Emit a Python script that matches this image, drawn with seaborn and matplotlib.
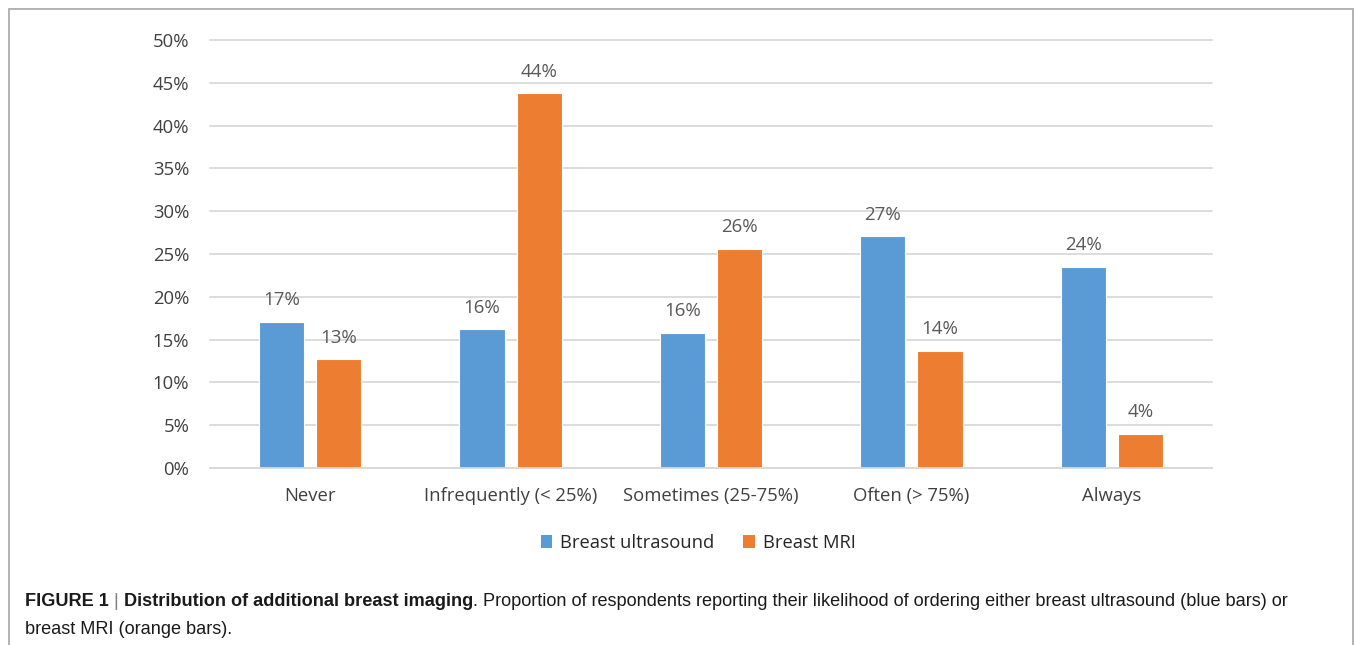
import matplotlib
matplotlib.use("Agg")
import matplotlib.pyplot as plt
import seaborn as sns
import pandas as pd
from matplotlib.patches import Rectangle, Patch
from matplotlib.ticker import FuncFormatter, MultipleLocator

categories = ["Never", "Infrequently (< 25%)", "Sometimes (25-75%)", "Often (> 75%)", "Always"]
series_names = ["Breast ultrasound", "Breast MRI"]
ultrasound = [17.1, 16.2, 15.8, 27.1, 23.5]
mri = [12.7, 43.8, 25.6, 13.7, 4.0]
ultrasound_labels = ["17%", "16%", "16%", "27%", "24%"]
mri_labels = ["13%", "44%", "26%", "14%", "4%"]
colors = ["#5B9BD5", "#ED7D31"]

df = pd.DataFrame({
    "category": categories * 2,
    "series": [series_names[0]] * 5 + [series_names[1]] * 5,
    "value": [v / 100 for v in ultrasound + mri],
})

sns.set_theme(style="white")
plt.rcParams["font.family"] = ["Open Sans", "DejaVu Sans"]

W, H = 1355, 645
fig = plt.figure(figsize=(W / 100, H / 100), dpi=100)
ax = fig.add_axes([210 / W, 1 - 468 / H, (1212 - 210) / W, (468 - 40) / H])

sns.barplot(data=df, x="category", y="value", hue="series", order=categories,
            hue_order=series_names, palette=colors, width=0.57, gap=0.21,
            ax=ax, legend=False, saturation=1, linewidth=0.8,
            edgecolor="white")

for cont, labs in zip(ax.containers, [ultrasound_labels, mri_labels]):
    ax.bar_label(cont, labels=labs, padding=9, fontsize=13.5, color="#595959")

ax.set_ylim(0, 0.5)
ax.set_xlim(-0.5, 4.5)
ax.yaxis.set_major_locator(MultipleLocator(0.05))
ax.yaxis.set_major_formatter(FuncFormatter(lambda v, p: f"{round(v * 100)}%"))
ax.grid(axis="y", color="#D9D9D9", linewidth=1.3)
for gl in ax.get_ygridlines():
    gl.set_clip_on(False)
ax.set_axisbelow(True)
for s in ["left", "right", "top"]:
    ax.spines[s].set_visible(False)
ax.spines["bottom"].set_color("#D9D9D9")
ax.spines["bottom"].set_linewidth(1.3)
ax.tick_params(axis="both", length=0, labelsize=13.3, colors="#404040")
ax.tick_params(axis="y", pad=15)
ax.tick_params(axis="x", pad=14)
ax.set_xlabel("")
ax.set_ylabel("")

handles = [Patch(facecolor=c, edgecolor="none") for c in colors]
fig.legend(handles, series_names, loc="center", bbox_to_anchor=(698 / W, 1 - 543 / H),
           ncol=2, frameon=False, fontsize=13.2, handlelength=0.65, handleheight=0.65,
           handletextpad=0.4, columnspacing=1.6, labelcolor="#262626")

# border box
fig.patches.append(Rectangle((9 / W, -0.05), (1353 - 9) / W, 1.05 - 9 / H,
                             transform=fig.transFigure, fill=False,
                             edgecolor="#A6A6A6", linewidth=1.2))

# caption
cap_font = ["Liberation Sans", "DejaVu Sans"]
cap_size = 13.1
renderer = fig.canvas.get_renderer()
parts = [("FIGURE 1", "bold", "#1a1a1a"), (" | ", "normal", "#7f7f7f"),
         ("Distribution of additional breast imaging", "bold", "#1a1a1a"),
         (". Proportion of respondents reporting their likelihood of ordering either breast ultrasound (blue bars) or",
          "normal", "#1a1a1a")]
x = 25 / W
y1 = 1 - 602 / H
for txt, wt, col in parts:
    t = fig.text(x, y1, txt, fontsize=cap_size, fontweight=wt, color=col, family=cap_font,
                 va="center", ha="left")
    bb = t.get_window_extent(renderer=renderer)
    x += bb.width / W
fig.text(25 / W, 1 - 630 / H, "breast MRI (orange bars).", fontsize=cap_size, color="#1a1a1a",
         family=cap_font, va="center", ha="left")

fig.savefig("out.png", dpi=100)
